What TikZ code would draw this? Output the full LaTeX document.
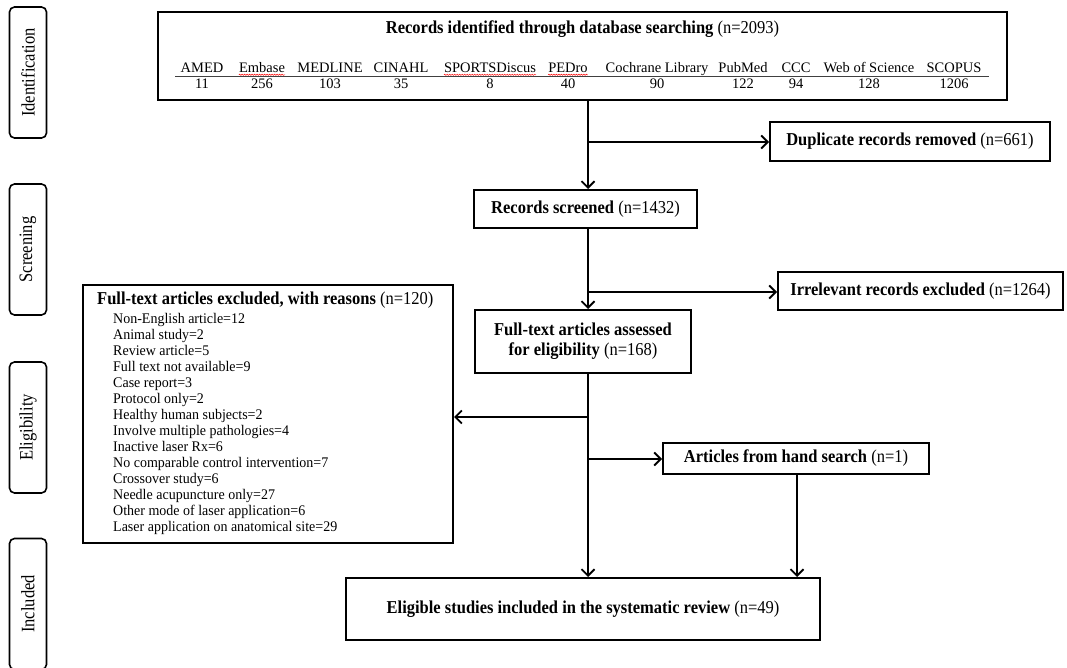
\documentclass[tikz,border=0pt]{standalone}
\usepackage{fontspec}
\setmainfont{Liberation Serif}
\usetikzlibrary{arrows.meta,calc,decorations.pathmorphing}
\newcommand\hdfont{\fontsize{16.5}{20}\selectfont}
\newcommand\lsfont{\fontsize{14}{16}\selectfont}
\newcommand\dbfont{\fontsize{14.5}{16}\selectfont}
\newcommand\sdfont{\fontsize{16.5}{18}\selectfont}
\newcommand\hs[1]{\scalebox{1}[1.1]{#1}}
\newcommand\ds[1]{\scalebox{1}[1.15]{#1}}
\begin{document}
\begin{tikzpicture}[x=1pt,y=-1pt,
  box/.style={draw, line width=2pt, inner sep=0pt, align=center, font=\hdfont},
  side/.style={draw, line width=1.6pt, rounded corners=5pt, minimum width=131pt, minimum height=37pt, inner sep=0pt, rotate=90, font=\sdfont},
  arr/.style={line width=1.8pt, -{Straight Barb[length=6.5pt,width=13pt,line width=1.8pt]}},
  db/.style={anchor=base, font=\dbfont, inner sep=0pt},
  li/.style={anchor=base west, font=\lsfont, inner sep=0pt},
  spell/.style={red, line width=0.5pt, decorate, decoration={snake, amplitude=0.6pt, segment length=2.5pt}}
]
\useasboundingbox (0,0) rectangle (1067,668);
\fill[white] (0,0) rectangle (1067,668);

% side labels
\node[side] (sid) at (28,72.5) {\ds{Identification}};
\node[side] (sscr) at (28,249.5) {\ds{Screening}};
\node[side] (selg) at (28,427.5) {\ds{Eligibility}};
\node[side] (sinc) at (28,604) {\ds{Included}};

% top box
\node[box, minimum width=849pt, minimum height=88pt] (top) at (582.5,56) {};
\node[anchor=base, font=\hdfont, inner sep=0pt] (toptitle) at (582.5,34) {\hs{\textbf{Records identified through database searching} (n=2093)}};
\draw[line width=0.9pt, black!75] (175,76) coordinate (ul1) -- (989,76) coordinate (ul2);
\foreach \nm/\cnt/\xx/\k in {AMED/11/202/a, Embase/256/262/b, MEDLINE/103/330/c, CINAHL/35/401/d, SPORTSDiscus/8/490/e, PEDro/40/568/f, Cochrane Library/90/657/g, PubMed/122/743/h, CCC/94/796/i, Web of Science/128/869/j, SCOPUS/1206/954/k}{
  \node[db] (n\k) at (\xx,73) {\nm};
  \node[db] (c\k) at (\xx,88.5) {\cnt};
}
\foreach \k in {b,e,f}{
  \draw[spell] ($(n\k.base west)+(0,1.8)$) -- ($(n\k.base east)+(0,1.8)$);
}

% flow boxes
\node[box, minimum width=280pt, minimum height=39pt] (dup) at (910,141.5) {\hs{\textbf{Duplicate records removed} (n=661)}};
\node[box, minimum width=223pt, minimum height=38pt] (scr) at (585.5,209) {\hs{\textbf{Records screened} (n=1432)}};
\node[box, minimum width=285pt, minimum height=38pt] (irr) at (920.5,291) {\hs{\textbf{Irrelevant records excluded} (n=1264)}};
\node[box, minimum width=216pt, minimum height=63pt] (ass) at (583,341.5) {\hs{\textbf{Full-text articles assessed}}\\\hs{\textbf{for eligibility} (n=168)}};
\node[box, minimum width=266pt, minimum height=31pt] (hand) at (796,458.5) {\hs{\textbf{Articles from hand search} (n=1)}};
\node[box, minimum width=474pt, minimum height=62pt] (inc) at (583,609) {\hs{\textbf{Eligible studies included in the systematic review} (n=49)}};
\node[box, minimum width=370pt, minimum height=258pt] (exc) at (268,414) {};
\node[anchor=base west, font=\hdfont, inner sep=0pt] (exh) at (97,304) {\hs{\textbf{Full-text articles excluded, with reasons} (n=120)}};
\foreach \t [count=\i from 0] in {Non-English article=12, Animal study=2, Review article=5, Full text not available=9, Case report=3, Protocol only=2, Healthy human subjects=2, Involve multiple pathologies=4, Inactive laser Rx=6, No comparable control intervention=7, Crossover study=6, Needle acupuncture only=27, Other mode of laser application=6, Laser application on anatomical site=29}{
  \node[li] (ex\i) at (113,323+16*\i) {\scalebox{1}[1.05]{\t}};
}

% connectors
\coordinate (t1) at (588,100);
\coordinate (b1) at (588,142);
\coordinate (s1) at (588,228);
\coordinate (b2) at (588,292);
\coordinate (a1) at (588,373);
\coordinate (b3) at (588,417);
\coordinate (b4) at (588,459);
\coordinate (h1) at (797,474);
\draw[arr] (t1) -- (t1 |- scr.north);
\draw[arr] (b1) -- (dup.west |- b1);
\draw[arr] (s1) -- (s1 |- ass.north);
\draw[arr] (b2) -- (irr.west |- b2);
\draw[arr] (a1) -- (a1 |- inc.north);
\draw[arr] (b3) -- (exc.east |- b3);
\draw[arr] (b4) -- (hand.west |- b4);
\draw[arr] (h1) -- (h1 |- inc.north);
\end{tikzpicture}
\end{document}
